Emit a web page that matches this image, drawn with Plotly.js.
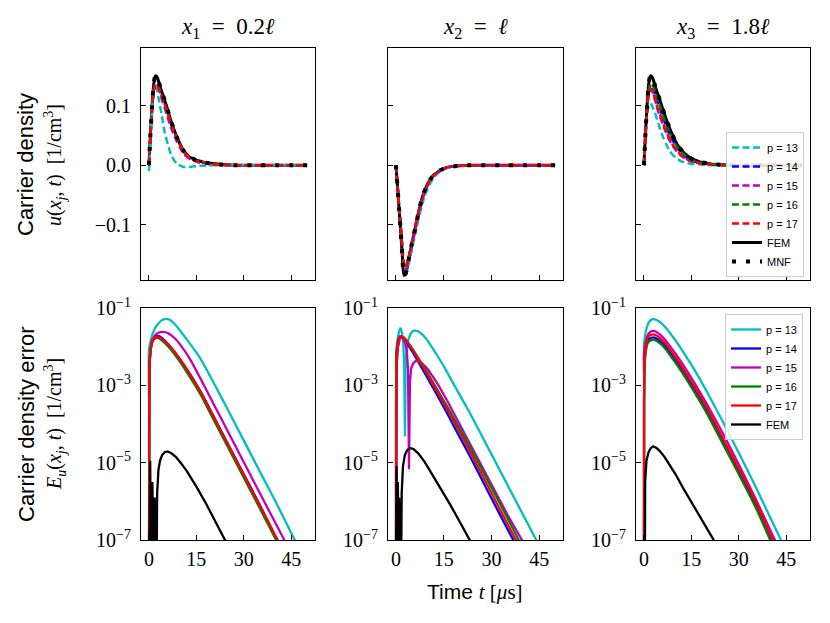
<!DOCTYPE html>
<html><head><meta charset="utf-8">
<script src="https://cdn.plot.ly/plotly-3.0.1.min.js"></script>
<style>body{margin:0;background:#fff}#chart{width:830px;height:623px}</style>
</head><body><div id="chart"></div>
<script>
// ---------- labels ----------
const seriesNames = ['p = 13', 'p = 14', 'p = 15', 'p = 16', 'p = 17'];
const colTitles = ['<i>x</i><sub>1</sub>\u2002=\u20020.2<i>ℓ</i>', '<i>x</i><sub>2</sub>\u2002=\u2002<i>ℓ</i>', '<i>x</i><sub>3</sub>\u2002=\u20021.8<i>ℓ</i>'];
const xTickVals = [0, 15, 30, 45];
const uTickVals = [-0.1, 0.0, 0.1];
const uTickText = ['−0.1', '0.0', '0.1'];
const eTickExp = [-7, -5, -3, -1];

// ---------- top row: carrier density u(x_j,t), common time grid [µs] ----------
const tTop = [0, 0.5, 1, 1.5, 2, 2.5, 3, 3.5, 4, 4.5, 5, 6, 7, 8, 9, 10, 11, 12, 13, 14, 15, 16, 18, 20, 23, 27, 35, 50];
// x1 = 0.2 l
const u1_p13 = [-0.01, 0.04, 0.095, 0.125, 0.132, 0.127, 0.114, 0.1, 0.086, 0.07, 0.055, 0.035, 0.018, 0.008, 0.002, -0.001, -0.003, -0.003, -0.003, -0.002, -0.002, -0.001, -0.001, 0, 0, 0, 0, 0];
const u1_p14 = [0, 0.05, 0.095, 0.125, 0.136, 0.137, 0.132, 0.125, 0.117, 0.11, 0.103, 0.087, 0.07, 0.057, 0.044, 0.033, 0.022, 0.017, 0.012, 0.01, 0.007, 0.006, 0.004, 0.002, 0.001, 0, 0, 0];
const u1_p15 = [0, 0.05, 0.095, 0.124, 0.134, 0.135, 0.129, 0.121, 0.112, 0.104, 0.096, 0.079, 0.063, 0.05, 0.038, 0.028, 0.019, 0.014, 0.01, 0.008, 0.006, 0.004, 0.003, 0.001, 0, 0, 0, 0];
const u1_p16 = [0, 0.05, 0.095, 0.125, 0.136, 0.137, 0.132, 0.125, 0.117, 0.11, 0.103, 0.087, 0.07, 0.057, 0.044, 0.033, 0.022, 0.017, 0.012, 0.01, 0.007, 0.006, 0.004, 0.002, 0.001, 0, 0, 0];
const u1_p17 = [0, 0.05, 0.095, 0.125, 0.136, 0.137, 0.132, 0.125, 0.117, 0.11, 0.103, 0.087, 0.07, 0.057, 0.044, 0.033, 0.022, 0.017, 0.012, 0.01, 0.007, 0.006, 0.004, 0.002, 0.001, 0, 0, 0];
const u1_fem = [0, 0.054, 0.1, 0.135, 0.15, 0.149, 0.142, 0.133, 0.124, 0.117, 0.109, 0.092, 0.074, 0.059, 0.045, 0.034, 0.024, 0.018, 0.013, 0.011, 0.008, 0.007, 0.004, 0.003, 0.001, 0, 0, 0];
const u1_mnf = [0, 0.054, 0.1, 0.135, 0.15, 0.149, 0.142, 0.133, 0.124, 0.117, 0.109, 0.092, 0.074, 0.059, 0.045, 0.034, 0.024, 0.018, 0.013, 0.011, 0.008, 0.007, 0.004, 0.003, 0.001, 0, 0, 0];
// x2 = l
const u2_p13 = [0, -0.033, -0.067, -0.1, -0.135, -0.165, -0.181, -0.178, -0.167, -0.155, -0.142, -0.117, -0.093, -0.07, -0.052, -0.039, -0.028, -0.02, -0.014, -0.01, -0.007, -0.005, -0.003, -0.001, 0, 0, 0, 0];
const u2_p14 = [0, -0.035, -0.07, -0.105, -0.14, -0.17, -0.173, -0.165, -0.155, -0.143, -0.13, -0.105, -0.081, -0.059, -0.043, -0.031, -0.022, -0.016, -0.012, -0.008, -0.006, -0.004, -0.002, -0.001, 0, 0, 0, 0];
const u2_p15 = [0, -0.034, -0.069, -0.103, -0.138, -0.168, -0.177, -0.172, -0.161, -0.149, -0.136, -0.111, -0.087, -0.064, -0.047, -0.034, -0.024, -0.017, -0.013, -0.009, -0.006, -0.004, -0.002, -0.001, 0, 0, 0, 0];
const u2_p16 = [0, -0.035, -0.07, -0.105, -0.14, -0.17, -0.173, -0.165, -0.155, -0.143, -0.13, -0.105, -0.081, -0.059, -0.043, -0.031, -0.022, -0.016, -0.012, -0.008, -0.006, -0.004, -0.002, -0.001, 0, 0, 0, 0];
const u2_p17 = [0, -0.035, -0.07, -0.105, -0.14, -0.17, -0.173, -0.165, -0.155, -0.143, -0.13, -0.105, -0.081, -0.059, -0.043, -0.031, -0.022, -0.016, -0.012, -0.008, -0.006, -0.004, -0.002, -0.001, 0, 0, 0, 0];
const u2_fem = [0, -0.037, -0.075, -0.112, -0.152, -0.185, -0.183, -0.172, -0.158, -0.145, -0.132, -0.107, -0.082, -0.059, -0.043, -0.031, -0.022, -0.016, -0.012, -0.008, -0.006, -0.004, -0.002, -0.001, 0, 0, 0, 0];
const u2_mnf = [0, -0.037, -0.075, -0.112, -0.152, -0.185, -0.183, -0.172, -0.158, -0.145, -0.132, -0.107, -0.082, -0.059, -0.043, -0.031, -0.022, -0.016, -0.012, -0.008, -0.006, -0.004, -0.002, -0.001, 0, 0, 0, 0];
// x3 = 1.8 l
const u3_p13 = [0, 0.045, 0.083, 0.1, 0.104, 0.101, 0.095, 0.088, 0.08, 0.072, 0.063, 0.048, 0.036, 0.025, 0.018, 0.013, 0.009, 0.006, 0.005, 0.003, 0.002, 0.002, 0.001, 0, 0, 0, 0, 0];
const u3_p14 = [0, 0.05, 0.094, 0.124, 0.133, 0.134, 0.129, 0.121, 0.112, 0.104, 0.097, 0.081, 0.066, 0.053, 0.043, 0.033, 0.026, 0.02, 0.015, 0.011, 0.008, 0.006, 0.004, 0.002, 0.001, 0, 0, 0];
const u3_p15 = [0, 0.05, 0.092, 0.119, 0.126, 0.126, 0.119, 0.11, 0.1, 0.091, 0.083, 0.068, 0.055, 0.043, 0.034, 0.026, 0.02, 0.015, 0.011, 0.008, 0.006, 0.005, 0.003, 0.002, 0.001, 0, 0, 0];
const u3_p16 = [0, 0.05, 0.095, 0.126, 0.136, 0.137, 0.132, 0.124, 0.115, 0.107, 0.1, 0.084, 0.069, 0.056, 0.045, 0.035, 0.027, 0.021, 0.016, 0.012, 0.009, 0.007, 0.004, 0.002, 0.001, 0, 0, 0];
const u3_p17 = [0, 0.05, 0.093, 0.12, 0.128, 0.128, 0.121, 0.112, 0.102, 0.093, 0.086, 0.071, 0.057, 0.045, 0.035, 0.027, 0.021, 0.016, 0.012, 0.009, 0.007, 0.005, 0.003, 0.002, 0.001, 0, 0, 0];
const u3_fem = [0, 0.054, 0.1, 0.136, 0.15, 0.149, 0.143, 0.134, 0.125, 0.118, 0.11, 0.094, 0.078, 0.064, 0.051, 0.04, 0.031, 0.025, 0.019, 0.015, 0.011, 0.009, 0.005, 0.003, 0.001, 0, 0, 0];
const u3_mnf = [0, 0.054, 0.1, 0.136, 0.15, 0.149, 0.143, 0.134, 0.125, 0.118, 0.11, 0.094, 0.078, 0.064, 0.051, 0.04, 0.031, 0.025, 0.019, 0.015, 0.011, 0.009, 0.005, 0.003, 0.001, 0, 0, 0];

// ---------- bottom row: error E_u(x_j,t), stored as log10 values ----------
// x1 = 0.2 l
const e1_t_p13 = [0, 0.02, 0.3, 1, 1.5, 2.2, 3, 4, 5.3, 6.5, 8, 10, 12.5, 16.4, 20, 25, 30, 35, 40, 46.1, 48];
const e1_p13 = [-3.3, -2.06, -1.95, -1.7, -1.6, -1.49, -1.4, -1.32, -1.28, -1.3, -1.4, -1.6, -1.87, -2.32, -2.86, -3.64, -4.43, -5.22, -6.0, -7.0, -7.3];
const e1_t_p14 = [0.05, 0.1, 0.2, 0.4, 0.8, 1.3, 2, 2.7, 3.5, 5, 7, 10, 13, 16.4, 20, 25, 30, 35, 40.5, 42];
const e1_p14 = [-8, -4, -2.6, -2.2, -1.94, -1.8, -1.73, -1.72, -1.74, -1.84, -2.02, -2.34, -2.71, -3.17, -3.73, -4.52, -5.3, -6.08, -7.0, -7.2];
const e1_t_p15 = [0.05, 0.1, 0.2, 0.4, 0.8, 1.3, 2, 3, 4.6, 6, 8, 10, 13, 16.4, 20, 25, 30, 35, 42.8, 44];
const e1_p15 = [-8, -4, -2.6, -2.2, -1.95, -1.8, -1.7, -1.64, -1.62, -1.65, -1.77, -1.96, -2.32, -2.84, -3.41, -4.2, -4.99, -5.78, -7, -7.2];
const e1_t_p16 = [0.05, 0.1, 0.2, 0.4, 0.8, 1.3, 2, 2.7, 3.5, 5, 7, 10, 13, 16.4, 20, 25, 30, 35, 40.7, 42];
const e1_p16 = [-8, -4, -2.6, -2.2, -1.96, -1.85, -1.78, -1.77, -1.8, -1.9, -2.08, -2.41, -2.79, -3.25, -3.82, -4.6, -5.39, -6.17, -7.08, -7.28];
const e1_t_p17 = [0.05, 0.1, 0.2, 0.4, 0.8, 1.3, 2, 2.7, 3.5, 5, 7, 10, 13, 16.4, 20, 25, 30, 35, 40.7, 42];
const e1_p17 = [-8, -4, -2.6, -2.2, -1.95, -1.83, -1.76, -1.75, -1.77, -1.86, -2.03, -2.35, -2.72, -3.18, -3.75, -4.53, -5.32, -6.1, -7.0, -7.2];
const e1_t_fem = [0.1, 0.4, 0.7, 1.1, 1.5, 1.8, 2.1, 2.4, 2.6, 3.0, 3.5, 4.2, 5.0, 5.9, 7, 8.5, 10, 12, 15, 18, 21, 24.1, 25];
const e1_fem = [-8, -4.95, -8, -5.5, -8, -5.9, -8, -8, -5.8, -5.2, -4.95, -4.8, -4.73, -4.71, -4.75, -4.85, -5.0, -5.22, -5.62, -6.05, -6.52, -7.0, -7.15];
// x2 = l
const e2_t_p13 = [0, 0.05, 0.5, 1, 1.47, 1.9, 2.3, 2.6, 2.83, 3.0, 3.3, 3.8, 4.5, 5.2, 5.9, 7, 8.5, 10, 12, 15, 18, 20, 22.6, 26, 30, 35, 40, 44.2, 46];
const e2_p13 = [-2.6, -2.1, -1.8, -1.6, -1.51, -1.65, -1.9, -2.5, -4.32, -2.6, -2.1, -1.85, -1.68, -1.6, -1.58, -1.6, -1.7, -1.85, -2.1, -2.5, -2.95, -3.24, -3.62, -4.15, -4.78, -5.58, -6.35, -7.0, -7.3];
const e2_t_p14 = [0.02, 0.05, 0.15, 0.4, 0.8, 1.2, 1.7, 2.5, 3.5, 5, 7, 10, 13, 16, 19, 22.6, 26, 30, 34, 37.7, 39];
const e2_p14 = [-8, -3.5, -2.4, -2.0, -1.8, -1.74, -1.75, -1.8, -1.92, -2.11, -2.39, -2.82, -3.26, -3.71, -4.18, -4.73, -5.27, -5.92, -6.55, -7.13, -7.35];
const e2_t_p15 = [0.03, 0.1, 0.3, 0.7, 1.2, 1.7, 2.3, 2.9, 3.4, 3.8, 4.1, 4.4, 4.8, 5.5, 6.3, 7, 8.5, 10, 13, 16, 19, 22.6, 26, 30, 35, 39.5, 41];
const e2_p15 = [-8, -4, -2.4, -2.0, -1.8, -1.74, -1.8, -1.92, -2.1, -2.6, -5.17, -2.9, -2.55, -2.42, -2.37, -2.37, -2.45, -2.58, -2.95, -3.38, -3.84, -4.4, -4.93, -5.56, -6.34, -7.0, -7.2];
const e2_t_p16 = [0.02, 0.05, 0.15, 0.4, 0.8, 1.2, 1.7, 2.5, 3.5, 5, 7, 10, 13, 16, 19, 22.6, 26, 30, 34, 37.7, 39];
const e2_p16 = [-8, -3.5, -2.4, -2.0, -1.83, -1.76, -1.74, -1.77, -1.86, -2.03, -2.29, -2.69, -3.11, -3.53, -3.97, -4.5, -5.02, -5.64, -6.27, -6.86, -7.07];
const e2_t_p17 = [0.02, 0.05, 0.15, 0.4, 0.8, 1.2, 1.7, 2.5, 3.5, 5, 7, 10, 13, 16, 19, 22.6, 26, 30, 34, 37.7, 39];
const e2_p17 = [-8, -3.5, -2.4, -2.0, -1.82, -1.75, -1.73, -1.77, -1.87, -2.05, -2.32, -2.74, -3.17, -3.6, -4.06, -4.6, -5.14, -5.78, -6.42, -7.0, -7.2];
const e2_t_fem = [0.02, 0.2, 0.4, 0.6, 0.8, 1.0, 1.3, 1.6, 1.8, 2.2, 2.8, 3.5, 4.4, 5.5, 7, 9, 11, 14, 17, 20, 23.3, 24.5];
const e2_fem = [-8, -5.09, -8, -5.5, -8, -5.9, -8, -8, -5.8, -5.1, -4.8, -4.68, -4.62, -4.65, -4.76, -4.98, -5.25, -5.65, -6.08, -6.52, -7.0, -7.2];
// x3 = 1.8 l
const e3_t_p13 = [0, 0.03, 0.5, 1, 1.5, 2.2, 2.9, 4, 5, 6.5, 8, 10, 12, 16, 20, 25, 30, 35, 40, 43.3, 45];
const e3_p13 = [-2.35, -1.95, -1.65, -1.48, -1.38, -1.31, -1.29, -1.31, -1.36, -1.47, -1.62, -1.84, -2.08, -2.6, -3.18, -3.95, -4.75, -5.57, -6.43, -7.0, -7.3];
const e3_t_p14 = [0.02, 0.05, 0.2, 0.6, 1.1, 1.7, 2.4, 2.9, 4, 5, 6.5, 8, 10, 12, 16, 20, 25, 30, 35, 40.7, 42];
const e3_p14 = [-8, -3.5, -2.45, -2.06, -1.87, -1.8, -1.77, -1.76, -1.79, -1.85, -1.97, -2.13, -2.36, -2.6, -3.12, -3.68, -4.46, -5.24, -6.03, -7.06, -7.3];
const e3_t_p15 = [0, 0.03, 0.5, 1, 1.5, 2.2, 2.9, 4, 5, 6.5, 8, 10, 12, 16, 20, 25, 30, 35, 41.4, 43];
const e3_p15 = [-2.65, -2.2, -1.9, -1.75, -1.66, -1.61, -1.59, -1.62, -1.68, -1.8, -1.96, -2.18, -2.42, -2.94, -3.5, -4.25, -5.05, -5.88, -7.0, -7.28];
const e3_t_p16 = [0.02, 0.05, 0.2, 0.6, 1.1, 1.7, 2.4, 2.9, 4, 5, 6.5, 8, 10, 12, 16, 20, 25, 30, 35, 40.7, 42];
const e3_p16 = [-8, -3.5, -2.5, -2.12, -1.93, -1.86, -1.83, -1.82, -1.85, -1.91, -2.03, -2.19, -2.42, -2.66, -3.18, -3.74, -4.52, -5.3, -6.1, -7.15, -7.4];
const e3_t_p17 = [0.02, 0.05, 0.2, 0.6, 1.1, 1.7, 2.4, 2.9, 4, 5, 6.5, 8, 10, 12, 16, 20, 25, 30, 35, 40.7, 42];
const e3_p17 = [-8, -3.5, -2.4, -2.0, -1.8, -1.72, -1.69, -1.68, -1.71, -1.77, -1.89, -2.05, -2.28, -2.52, -3.04, -3.6, -4.38, -5.16, -5.95, -7.0, -7.25];
const e3_t_fem = [0.3, 0.4, 0.8, 1.5, 2.2, 2.9, 4, 5, 6.5, 8, 10, 12.5, 15, 18, 22.1, 23.5];
const e3_fem = [-8, -5.5, -4.95, -4.72, -4.62, -4.58, -4.62, -4.7, -4.85, -5.03, -5.3, -5.67, -6.02, -6.45, -7.0, -7.2];

// ---------- styling ----------
const colors = ['#00bfbf', '#0000ff', '#bf00bf', '#008000', '#ff0000'];
const SERIF = 'Liberation Serif, DejaVu Serif, serif';
const SANS = 'Liberation Sans, Arial, sans-serif';

const topU = [
  [u1_p13, u1_p14, u1_p15, u1_p16, u1_p17, u1_fem, u1_mnf],
  [u2_p13, u2_p14, u2_p15, u2_p16, u2_p17, u2_fem, u2_mnf],
  [u3_p13, u3_p14, u3_p15, u3_p16, u3_p17, u3_fem, u3_mnf]
];
const botT = [
  [e1_t_p13, e1_t_p14, e1_t_p15, e1_t_p16, e1_t_p17, e1_t_fem],
  [e2_t_p13, e2_t_p14, e2_t_p15, e2_t_p16, e2_t_p17, e2_t_fem],
  [e3_t_p13, e3_t_p14, e3_t_p15, e3_t_p16, e3_t_p17, e3_t_fem]
];
const botE = [
  [e1_p13, e1_p14, e1_p15, e1_p16, e1_p17, e1_fem],
  [e2_p13, e2_p14, e2_p15, e2_p16, e2_p17, e2_fem],
  [e3_p13, e3_p14, e3_p15, e3_p16, e3_p17, e3_fem]
];
// curves with sharp cusps are drawn with straight segments, the rest smoothed
const cuspy = [[false, false, false, false, false, true], [true, false, true, false, false, true], [false, false, false, false, false, true]];

const traces = [];
for (let c = 0; c < 3; c++) {
  const xa = c === 0 ? 'x' : 'x' + (c + 1);
  const ya = c === 0 ? 'y' : 'y' + (c + 1);
  const show = c === 2;
  const u = topU[c];
  traces.push({x: tTop, y: u[5], xaxis: xa, yaxis: ya, type: 'scatter', mode: 'lines', name: 'FEM',
    legend: 'legend', legendrank: 6, showlegend: show,
    line: {color: '#000', width: 3, shape: 'spline', smoothing: 0.6}});
  for (let s = 0; s < 5; s++) {
    traces.push({x: tTop, y: u[s], xaxis: xa, yaxis: ya, type: 'scatter', mode: 'lines', name: seriesNames[s],
      legend: 'legend', legendrank: s + 1, showlegend: show,
      line: {color: colors[s], width: 2.5, dash: '7px,3.5px', shape: 'spline', smoothing: 0.6}});
  }
  traces.push({x: tTop, y: u[6], xaxis: xa, yaxis: ya, type: 'scatter', mode: 'lines', name: 'MNF',
    legend: 'legend', legendrank: 7, showlegend: show,
    line: {color: '#000', width: 4, dash: '4px,10px', shape: 'spline', smoothing: 0.6}});

  const xb = 'x' + (c + 4), yb = 'y' + (c + 4);
  for (let s = 0; s < 6; s++) {
    const ln = {color: s < 5 ? colors[s] : '#000', width: 2.3};
    if (!cuspy[c][s]) { ln.shape = 'spline'; ln.smoothing = 0.5; }
    traces.push({x: botT[c][s], y: botE[c][s].map(v => Math.pow(10, v)), xaxis: xb, yaxis: yb,
      type: 'scatter', mode: 'lines', name: s < 5 ? seriesNames[s] : 'FEM',
      legend: 'legend2', legendrank: s + 1, showlegend: show, line: ln});
  }
}

const xDom = [[141 / 830, 315 / 830], [388 / 830, 563 / 830], [636 / 830, 810 / 830]];
const yTop = [1 - 280 / 623, 1 - 48 / 623];
const yBot = [1 - 540 / 623, 1 - 308 / 623];

const axBase = {showline: true, mirror: true, linecolor: '#000', linewidth: 1, ticks: 'inside', ticklen: 5,
  tickwidth: 1, tickcolor: '#000', showgrid: false, zeroline: false, tickfont: {family: SERIF, size: 20, color: '#000'},
  ticklabelstandoff: 5};

const layout = {width: 830, height: 623, margin: {l: 0, r: 0, t: 0, b: 0}, paper_bgcolor: '#fff', plot_bgcolor: '#fff',
  font: {family: SANS, color: '#000'},
  legend: {x: 804 / 830, xanchor: 'right', y: 1 - 277 / 623, yanchor: 'bottom', bgcolor: 'rgba(255,255,255,0.85)',
    bordercolor: '#cccccc', borderwidth: 1, font: {family: SANS, size: 11, color: '#000'}, itemwidth: 30, tracegroupgap: 0},
  legend2: {x: 803 / 830, xanchor: 'right', y: 1 - 314 / 623, yanchor: 'top', bgcolor: 'rgba(255,255,255,0.85)',
    bordercolor: '#cccccc', borderwidth: 1, font: {family: SANS, size: 11, color: '#000'}, itemwidth: 30, tracegroupgap: 0},
  annotations: [], showlegend: true};

for (let c = 0; c < 3; c++) {
  const ix = c === 0 ? '' : String(c + 1);
  const ib = String(c + 4);
  layout['xaxis' + ix] = Object.assign({}, axBase, {domain: xDom[c], anchor: 'y' + ix, range: [-2.5, 52.5],
    tickvals: xTickVals, showticklabels: false});
  layout['yaxis' + ix] = Object.assign({}, axBase, {domain: yTop, anchor: 'x' + ix, range: [-0.193, 0.197],
    tickvals: uTickVals, ticktext: uTickText, showticklabels: c === 0});
  layout['xaxis' + ib] = Object.assign({}, axBase, {domain: xDom[c], anchor: 'y' + ib, range: [-2.5, 52.5],
    tickvals: xTickVals, showticklabels: true, ticklabelstandoff: 1});
  layout['yaxis' + ib] = Object.assign({}, axBase, {domain: yBot, anchor: 'x' + ib, type: 'log', range: [-7, -1],
    tickvals: eTickExp.map(v => Math.pow(10, v)), ticktext: eTickExp.map(v => '10<sup>−' + (-v) + '</sup>'),
    showticklabels: true});
  layout.annotations.push({text: colTitles[c], xref: 'paper', yref: 'paper', x: (xDom[c][0] + xDom[c][1]) / 2,
    y: 1 - 28 / 623, xanchor: 'center', yanchor: 'middle', showarrow: false, font: {family: SERIF, size: 23, color: '#000'}});
}

const yLab = [
  {t: 'Carrier density', f: SANS, s: 22, x: 26, y: 165},
  {t: '<i>u</i>(<i>x<sub>j</sub></i>, <i>t</i>)  [1/cm<sup>3</sup>]', f: SERIF, s: 20, x: 55, y: 165},
  {t: 'Carrier density error', f: SANS, s: 22, x: 26, y: 424},
  {t: '<i>E<sub>u</sub></i>(<i>x<sub>j</sub></i>, <i>t</i>)  [1/cm<sup>3</sup>]', f: SERIF, s: 20, x: 55, y: 424}
];
for (const l of yLab) {
  layout.annotations.push({text: l.t, xref: 'paper', yref: 'paper', x: l.x / 830, y: 1 - l.y / 623, textangle: -90,
    xanchor: 'center', yanchor: 'middle', showarrow: false, font: {family: l.f, size: l.s, color: '#000'}});
}
layout.annotations.push({text: 'Time <span style="font-family:Liberation Serif"><i>t</i> [<i>μ</i>s]</span>',
  xref: 'paper', yref: 'paper', x: 475 / 830, y: 1 - 592 / 623, xanchor: 'center', yanchor: 'middle', showarrow: false,
  font: {family: SANS, size: 21, color: '#000'}});

Plotly.newPlot('chart', traces, layout, {staticPlot: true, displayModeBar: false});
</script></body></html>
